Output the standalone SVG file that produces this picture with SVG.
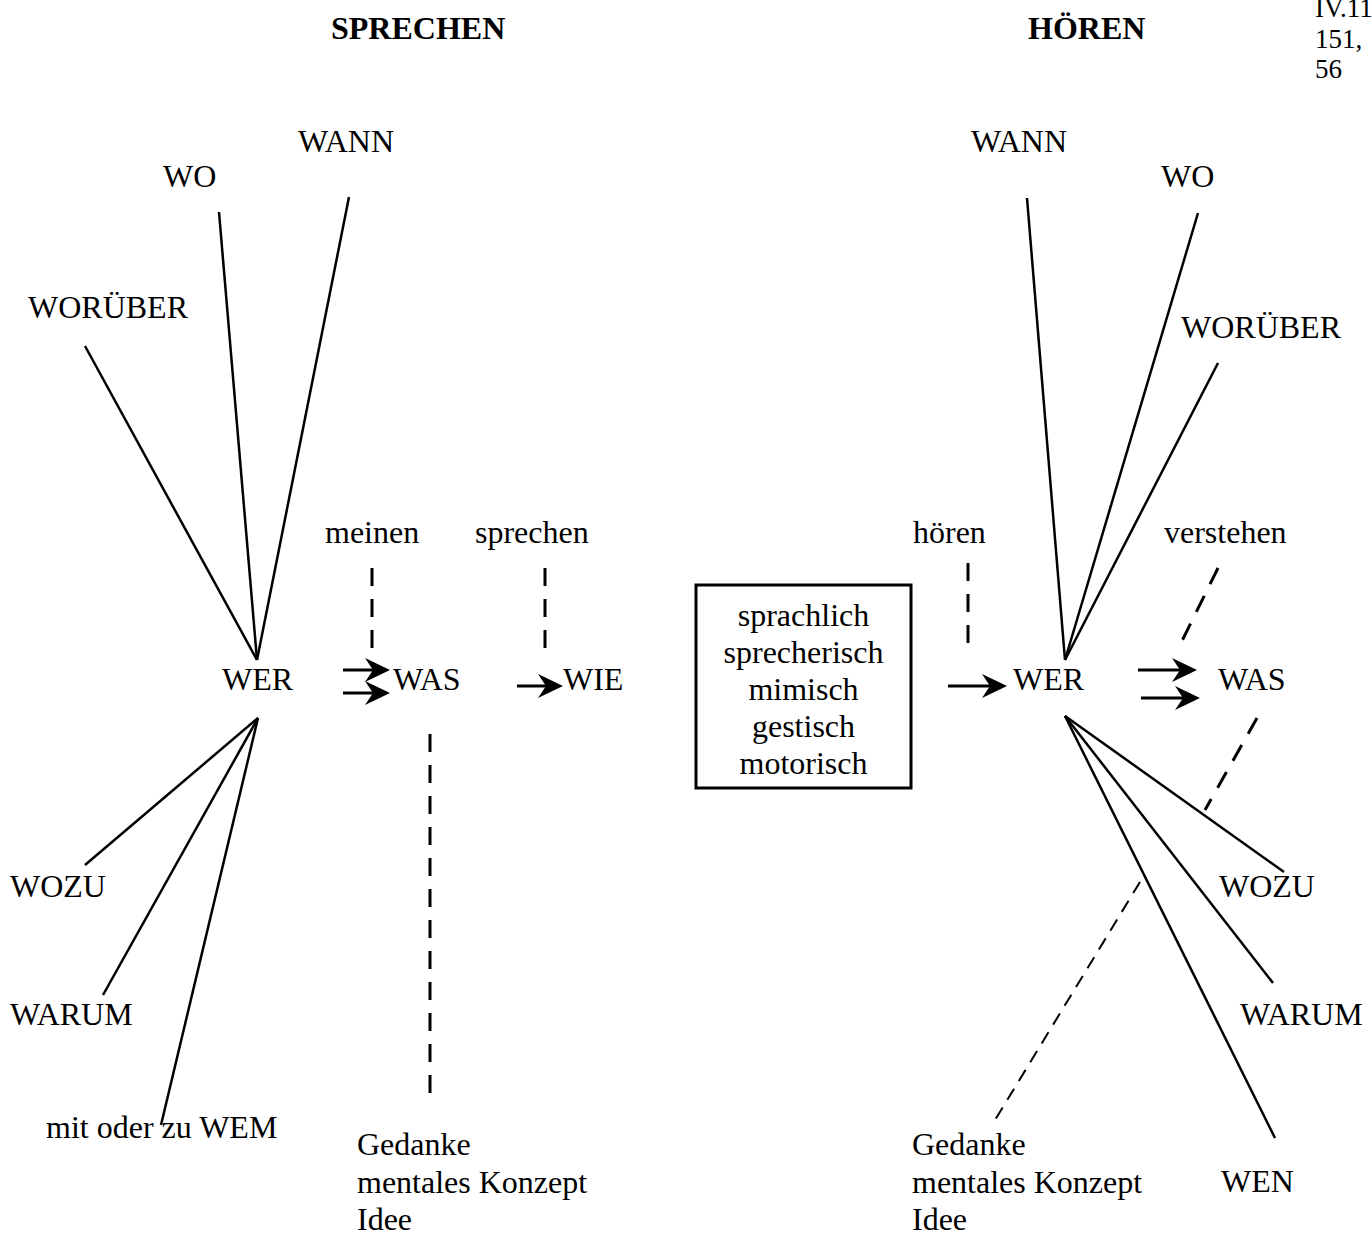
<svg xmlns="http://www.w3.org/2000/svg" width="1372" height="1235" viewBox="0 0 1372 1235">
<style>
text{font-family:"Liberation Serif","Times New Roman",serif;font-size:32px;fill:#000}
.h{font-weight:bold}
.ref{font-size:27px}
.c{text-anchor:middle}
.s{stroke:#000;stroke-width:2.5;fill:none}
.d{stroke:#000;stroke-width:3;fill:none;stroke-dasharray:18 13}
.dt{stroke:#000;stroke-width:2;fill:none;stroke-dasharray:13 9}
.a{stroke:#000;stroke-width:3;fill:none;marker-end:url(#stealth)}
</style>
<defs>
<marker id="stealth" viewBox="-26 -13 27 26" refX="-14" refY="0" markerWidth="27" markerHeight="26" markerUnits="userSpaceOnUse" orient="auto">
<path d="M0,0 L-25,-12 L-17,0 L-25,12 Z" fill="#000"/>
</marker>
</defs>
<rect width="1372" height="1235" fill="#fff"/>
<g id="headers">
<text class="h" x="331" y="39">SPRECHEN</text>
<text class="h" x="1028" y="39">HÖREN</text>
<text class="ref" x="1315" y="17">IV.11</text>
<text class="ref" x="1315" y="48">151,</text>
<text class="ref" x="1315" y="78">56</text>
</g>
<g id="connectors">
<line class="s" x1="219" y1="212" x2="257" y2="660"/>
<line class="s" x1="349" y1="197" x2="257" y2="660"/>
<line class="s" x1="85" y1="346" x2="257" y2="660"/>
<line class="s" x1="258" y1="718" x2="85" y2="865"/>
<line class="s" x1="258" y1="718" x2="103" y2="995"/>
<line class="s" x1="258" y1="718" x2="161" y2="1125"/>
<line class="d" x1="372" y1="568" x2="372" y2="648"/>
<line class="d" x1="545" y1="568" x2="545" y2="648"/>
<line class="d" x1="430" y1="734" x2="430" y2="1106"/>
<line class="a" x1="343" y1="670" x2="376" y2="670"/>
<line class="a" x1="343" y1="693" x2="376" y2="693"/>
<line class="a" x1="517" y1="686" x2="549" y2="686"/>
<line class="d" x1="968" y1="563" x2="968" y2="645"/>
<line class="a" x1="948" y1="686" x2="993" y2="686"/>
<line class="s" x1="1027" y1="198" x2="1065" y2="660"/>
<line class="s" x1="1198" y1="213" x2="1065" y2="660"/>
<line class="s" x1="1218" y1="363" x2="1065" y2="660"/>
<line class="s" x1="1065" y1="716" x2="1284" y2="872"/>
<line class="s" x1="1065" y1="716" x2="1273" y2="983"/>
<line class="s" x1="1065" y1="716" x2="1275" y2="1138"/>
<line class="a" x1="1138" y1="670" x2="1183" y2="670"/>
<line class="a" x1="1141" y1="698" x2="1186" y2="698"/>
<line class="d" x1="1218" y1="568" x2="1180" y2="645"/>
<line class="d" x1="1257" y1="718" x2="1205" y2="810"/>
<line class="dt" x1="1140" y1="882" x2="992" y2="1125"/>
</g>
<g id="sprechen-wann"><text x="298" y="152">WANN</text></g>
<g id="sprechen-wo"><text x="163" y="187">WO</text></g>
<g id="sprechen-worueber"><text x="28" y="318">WORÜBER</text></g>
<g id="meinen"><text x="325" y="543">meinen</text></g>
<g id="sprechen-label"><text x="475" y="543">sprechen</text></g>
<g id="sprechen-wer"><text x="222" y="690">WER</text></g>
<g id="sprechen-was"><text x="393" y="690">WAS</text></g>
<g id="sprechen-wie"><text x="563" y="690">WIE</text></g>
<g id="sprechen-wozu"><text x="10" y="897">WOZU</text></g>
<g id="sprechen-warum"><text x="10" y="1025">WARUM</text></g>
<g id="sprechen-wem"><text x="46" y="1138">mit oder zu WEM</text></g>
<g id="sprechen-gedanke">
<text x="357" y="1155">Gedanke</text>
<text x="357" y="1193">mentales Konzept</text>
<text x="357" y="1230">Idee</text>
</g>
<g id="kanal">
<rect x="696" y="585" width="215" height="203" fill="none" stroke="#000" stroke-width="3"/>
<text class="c" x="803.5" y="626">sprachlich</text>
<text class="c" x="803.5" y="663">sprecherisch</text>
<text class="c" x="803.5" y="700">mimisch</text>
<text class="c" x="803.5" y="737">gestisch</text>
<text class="c" x="803.5" y="774">motorisch</text>
</g>
<g id="hoeren-label"><text x="913" y="543">hören</text></g>
<g id="verstehen"><text x="1164" y="543">verstehen</text></g>
<g id="hoeren-wann"><text x="971" y="152">WANN</text></g>
<g id="hoeren-wo"><text x="1161" y="187">WO</text></g>
<g id="hoeren-worueber"><text x="1181" y="338">WORÜBER</text></g>
<g id="hoeren-wer"><text x="1013" y="690">WER</text></g>
<g id="hoeren-was"><text x="1218" y="690">WAS</text></g>
<g id="hoeren-wozu"><text x="1219" y="897">WOZU</text></g>
<g id="hoeren-warum"><text x="1240" y="1025">WARUM</text></g>
<g id="hoeren-wen"><text x="1221" y="1192">WEN</text></g>
<g id="hoeren-gedanke">
<text x="912" y="1155">Gedanke</text>
<text x="912" y="1193">mentales Konzept</text>
<text x="912" y="1230">Idee</text>
</g>
</svg>
